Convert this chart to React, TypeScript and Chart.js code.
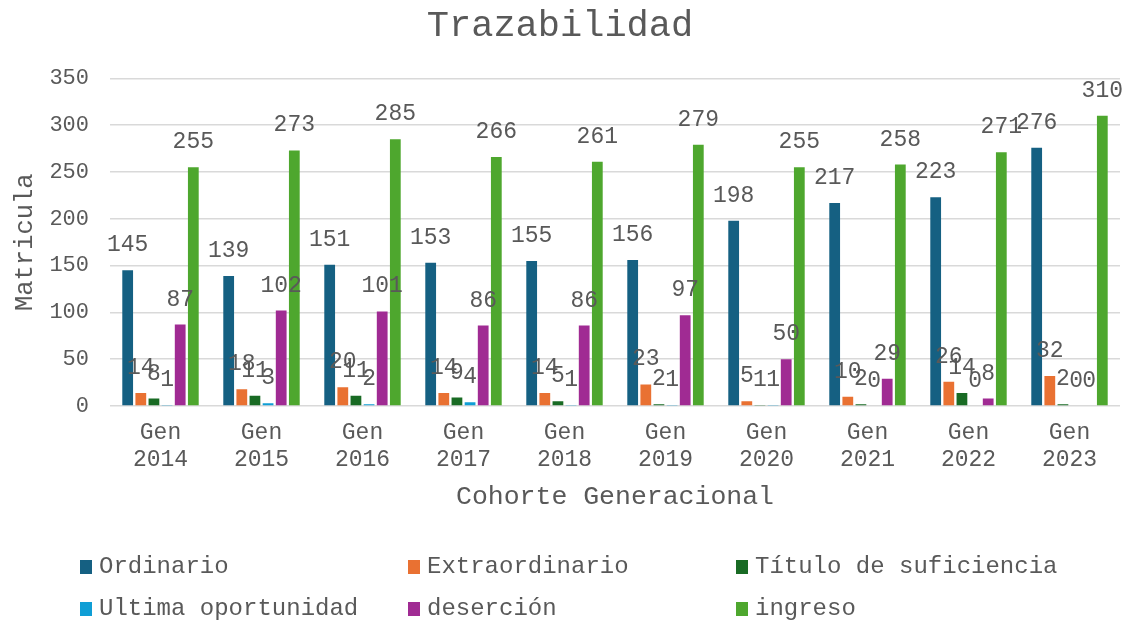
import React, { useEffect, useRef } from "react";
import { Chart, registerables } from "chart.js";

Chart.register(...registerables);

const categories: string[][] = [
  ["Gen", "2014"], ["Gen", "2015"], ["Gen", "2016"], ["Gen", "2017"], ["Gen", "2018"],
  ["Gen", "2019"], ["Gen", "2020"], ["Gen", "2021"], ["Gen", "2022"], ["Gen", "2023"],
];

const ordinario = [145, 139, 151, 153, 155, 156, 198, 217, 223, 276];
const extraordinario = [14, 18, 20, 14, 14, 23, 5, 10, 26, 32];
const titulo = [8, 11, 11, 9, 5, 2, 1, 2, 14, 2];
const ultima = [1, 3, 2, 4, 1, 1, 1, 0, 0, 0];
const desercion = [87, 102, 101, 86, 86, 97, 50, 29, 8, 0];
const ingreso = [255, 273, 285, 266, 261, 279, 255, 258, 271, 310];

const seriesNames = ["Ordinario", "Extraordinario", "Título de suficiencia", "Ultima oportunidad", "deserción", "ingreso"];
const seriesColors = ["#156082", "#E97132", "#196B24", "#0F9ED5", "#A02B93", "#4EA72E"];

const yTicks = [0, 50, 100, 150, 200, 250, 300, 350];

const FONT = "'Liberation Mono', 'Courier New', monospace";
const TEXT = "#595959";

const dataLabelPlugin = {
  id: "dataLabels",
  afterDatasetsDraw(chart: any) {
    const ctx = chart.ctx;
    ctx.save();
    ctx.font = `23px ${FONT}`;
    ctx.fillStyle = TEXT;
    ctx.textAlign = "center";
    ctx.textBaseline = "alphabetic";
    chart.data.datasets.forEach((ds: any, i: number) => {
      const meta = chart.getDatasetMeta(i);
      meta.data.forEach((el: any, j: number) => {
        ctx.fillText(String(ds.data[j]), el.x, el.y - 19);
      });
    });
    ctx.restore();
  },
};

const legendPlugin = {
  id: "customLegend",
  afterDraw(chart: any) {
    const ctx = chart.ctx;
    ctx.save();
    ctx.font = `24px ${FONT}`;
    ctx.fillStyle = TEXT;
    ctx.textBaseline = "middle";
    ctx.textAlign = "left";
    const colX = [80, 408, 736];
    const rowY = [567, 609];
    seriesNames.forEach((name, i) => {
      const x = colX[i % 3];
      const y = rowY[Math.floor(i / 3)];
      ctx.fillStyle = seriesColors[i];
      ctx.fillRect(x, y - 7, 12, 14);
      ctx.fillStyle = TEXT;
      ctx.fillText(name, x + 19, y);
    });
    ctx.restore();
  },
};

export default function App() {
  const ref = useRef<HTMLCanvasElement>(null);

  useEffect(() => {
    if (!ref.current) return;
    const allSeries = [ordinario, extraordinario, titulo, ultima, desercion, ingreso];
    const chart = new Chart(ref.current, {
      type: "bar",
      data: {
        labels: categories,
        datasets: allSeries.map((d, i) => ({
          label: seriesNames[i],
          data: d,
          backgroundColor: seriesColors[i],
          borderWidth: 0,
          barPercentage: 0.82,
          categoryPercentage: 0.78,
        })),
      },
      options: {
        responsive: false,
        animation: false,
        layout: { padding: { left: 0, right: 8, top: 0, bottom: 104 } },
        plugins: {
          legend: { display: false },
          tooltip: { enabled: false },
          title: {
            display: true,
            text: "Trazabilidad",
            color: TEXT,
            font: { family: FONT, size: 37, weight: "normal", lineHeight: 1.2 },
            padding: { top: 4, bottom: 30 },
          },
        },
        scales: {
          x: {
            grid: { display: false, drawTicks: false },
            border: { display: false },
            ticks: {
              color: TEXT,
              font: { family: FONT, size: 23, lineHeight: 1.2 },
              padding: 13,
              maxRotation: 0,
              autoSkip: false,
            },
            title: {
              display: true,
              text: "Cohorte Generacional",
              color: TEXT,
              font: { family: FONT, size: 26.5, lineHeight: 1.2 },
              padding: { top: 0, bottom: 5 },
            },
            afterFit: (scale: any) => {
              scale.height = 112;
            },
          },
          y: {
            min: 0,
            max: 350,
            afterBuildTicks: (scale: any) => {
              scale.ticks = yTicks.map((v) => ({ value: v }));
            },
            grid: { color: "#D9D9D9", lineWidth: 1.5, drawTicks: false },
            border: { display: false },
            ticks: {
              color: TEXT,
              font: { family: FONT, size: 22 },
              padding: 21,
            },
            title: {
              display: true,
              text: "Matricula",
              color: TEXT,
              font: { family: FONT, size: 25.5, lineHeight: 1.2 },
              padding: { top: 10, bottom: 0 },
            },
            afterFit: (scale: any) => {
              scale.width = 110;
            },
          },
        },
      },
      plugins: [dataLabelPlugin, legendPlugin],
    });
    return () => chart.destroy();
  }, []);

  return (
    <div style={{ position: "fixed", left: 0, top: 0, width: 1128, height: 622, background: "#fff" }}>
      <canvas ref={ref} width={1128} height={622} />
    </div>
  );
}
